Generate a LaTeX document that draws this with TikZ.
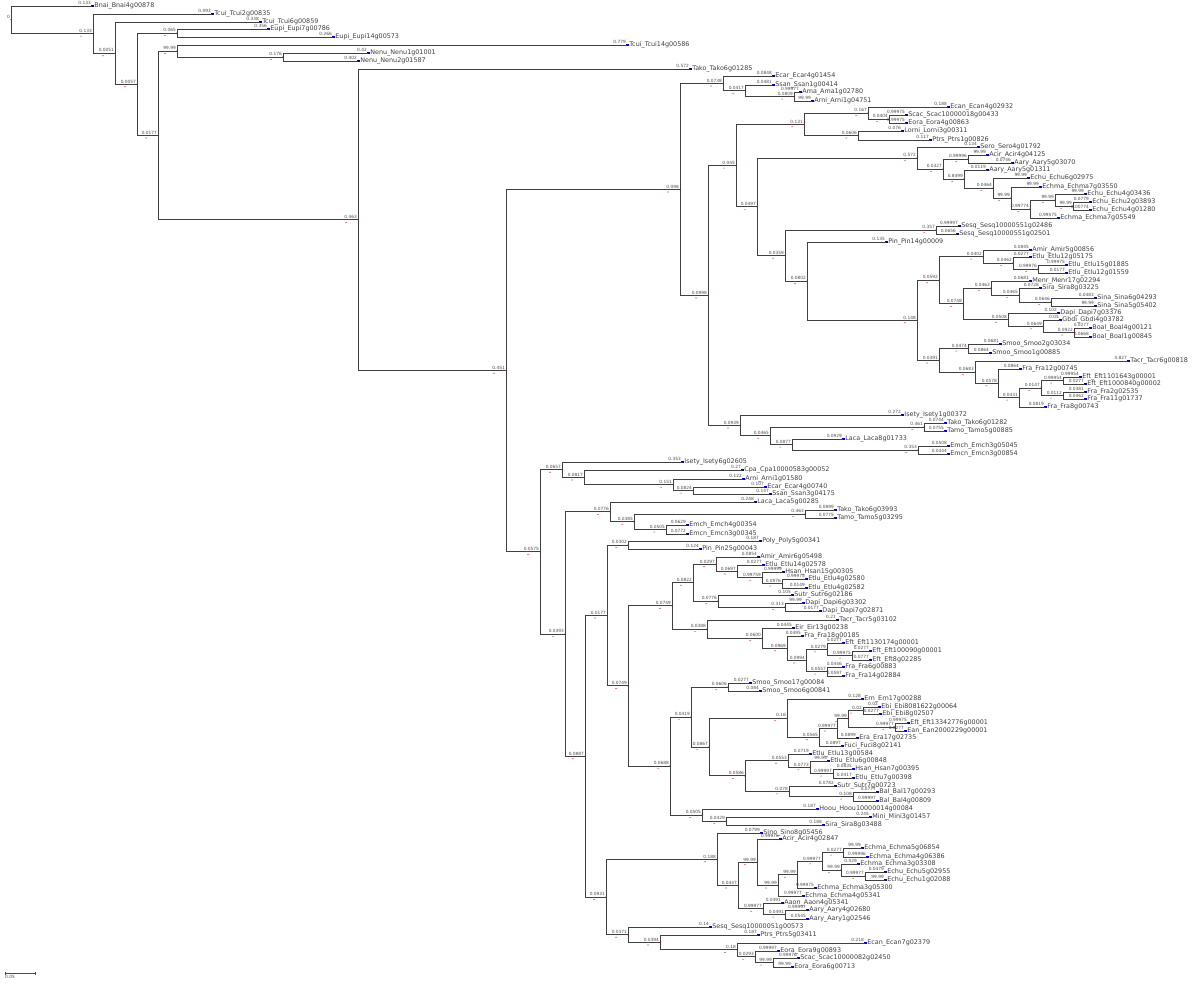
\documentclass[tikz,border=0pt]{standalone}
\usepackage{fontspec}
\setmainfont{DejaVu Sans}
\usetikzlibrary{calc}

\tikzset{
  branch/.style={draw=black!75, line width=0.9pt, line cap=rect},
  blen/.style={font=\fontsize{4.3}{4.3}\selectfont, text=black!70, inner sep=0pt, anchor=south east, xshift=-1pt, yshift=0.9pt},
  taxon/.style={font=\fontsize{6.4}{6.4}\selectfont, text=black!75, inner sep=0pt, anchor=west, xshift=2.2pt},
  tipmark/.style={fill=blue!75!black},
  nodemark/.style={fill=red!80!black},
}

% leaf: name, x of tip, y, branch length, taxon
\newcommand{\leaf}[5]{%
  \coordinate (#1) at (#2,#3);
  \node[blen] (#1-bl) at (#1) {#4};
  \fill[tipmark] ($(#1)+(-1,-0.6)$) rectangle ($(#1)+(1.6,0.6)$);
  \node[taxon] (#1-tx) at (#1) {#5};
}
% clade: name, x, first child, last child, branch length
\newcommand{\clade}[5]{%
  \path let \p1=(#3), \p2=(#4) in coordinate (#1) at (#2pt,{0.5*(\y1+\y2)});
  \draw[branch] (#1) |- (#3);
  \draw[branch] (#1) |- (#4);
  \node[blen] (#1-bl) at (#1) {#5};
  \fill[nodemark] ($(#1)+(-12,2.6)$) circle (0.6);
  \fill[nodemark] (#1) circle (0.6);
}

\begin{document}
\begin{tikzpicture}[x=1pt, y=-1pt]
\fill[white] (0,0) rectangle (1200,984);
\useasboundingbox (0,0) rectangle (1200,984);

% tips, top to bottom
\leaf{l1}{92}{6}{0.133}{Bnai\_Bnai4g00878}
\leaf{l2}{212}{14}{0.093}{Tcui\_Tcui2g00835}
\leaf{l3}{260}{22}{0.338}{Tcui\_Tcui6g00859}
\leaf{l4}{268}{29}{0.356}{Eupi\_Eupi7g00786}
\leaf{l5}{333}{37}{0.266}{Eupi\_Eupi14g00573}
\leaf{l6}{627}{45}{0.779}{Tcui\_Tcui14g00586}
\leaf{l7}{368}{53}{0.42}{Nenu\_Nenu1g01001}
\leaf{l8}{358}{61}{0.402}{Nenu\_Nenu2g01587}
\leaf{l9}{690}{69}{0.572}{Tako\_Tako6g01285}
\leaf{l10}{773}{76}{0.0848}{Ecar\_Ecar4g01454}
\leaf{l11}{773}{85}{0.0481}{Ssan\_Ssan1g00414}
\leaf{l12}{800}{92}{0.99977}{Ama\_Ama1g02780}
\leaf{l13}{812}{101}{99.99}{Arni\_Arni1g04751}
\leaf{l14}{948}{107}{0.188}{Ecan\_Ecan4g02932}
\leaf{l15}{906}{115}{0.99975}{Scac\_Scac10000018g00433}
\leaf{l16}{906}{123}{0.99975}{Eora\_Eora4g00863}
\leaf{l17}{902}{131}{0.076}{Lorni\_Lorni3g00311}
\leaf{l18}{930}{140}{0.117}{Ptrs\_Ptrs1g00826}
\leaf{l19}{978}{147}{0.134}{Sero\_Sero4g01792}
\leaf{l20}{987}{155}{99.99}{Acir\_Acir4g04125}
\leaf{l21}{1012}{163}{0.0746}{Aary\_Aary5g03070}
\leaf{l22}{987}{170}{0.0119}{Aary\_Aary5g01311}
\leaf{l23}{1028}{178}{99.99}{Echu\_Echu6g02975}
\leaf{l24}{1040}{187}{99.99}{Echma\_Echma7g03550}
\leaf{l25}{1085}{194}{99.99}{Echu\_Echu4g03436}
\leaf{l26}{1090}{202}{0.0779}{Echu\_Echu2g03893}
\leaf{l27}{1090}{210}{0.00774}{Echu\_Echu4g01280}
\leaf{l28}{1058}{218}{0.99575}{Echma\_Echma7g05549}
\leaf{l29}{959}{226}{0.99997}{Sesq\_Sesq10000551g02486}
\leaf{l30}{957}{234}{0.0656}{Sesq\_Sesq10000551g02501}
\leaf{l31}{886}{242}{0.135}{Pin\_Pin14g00009}
\leaf{l32}{1030}{250}{0.0845}{Amir\_Amir5g00856}
\leaf{l33}{1030}{257}{0.0277}{Etlu\_Etlu12g05175}
\leaf{l34}{1066}{265}{0.99975}{Etlu\_Etlu15g01885}
\leaf{l35}{1066}{273}{0.0177}{Etlu\_Etlu12g01559}
\leaf{l36}{1030}{281}{0.0681}{Menr\_Menr17g02294}
\leaf{l37}{1040}{288}{0.0728}{Sira\_Sira8g03225}
\leaf{l38}{1095}{298}{0.0483}{Sina\_Sina6g04293}
\leaf{l39}{1095}{306}{99.99}{Sina\_Sina5g05402}
\leaf{l40}{1058}{313}{0.102}{Dapi\_Dapi7g03376}
\leaf{l41}{1060}{320}{0.05}{Gbdi\_Gbdi4g03782}
\leaf{l42}{1090}{328}{0.0277}{Boal\_Boal4g00121}
\leaf{l43}{1090}{337}{0.0668}{Boal\_Boal1g00845}
\leaf{l44}{1000}{344}{0.0681}{Smoo\_Smoo2g03034}
\leaf{l45}{990}{353}{0.0864}{Smoo\_Smoo1g00885}
\leaf{l46}{1128}{361}{0.827}{Tacr\_Tacr6g00818}
\leaf{l47}{1020}{369}{0.0864}{Fra\_Fra12g00745}
\leaf{l48}{1080}{377}{0.99954}{Eft\_Eft1101643g00001}
\leaf{l49}{1085}{384}{0.0277}{Eft\_Eft1000840g00002}
\leaf{l50}{1085}{392}{0.0381}{Fra\_Fra2g02535}
\leaf{l51}{1085}{399}{0.0462}{Fra\_Fra11g01737}
\leaf{l52}{1045}{407}{0.0819}{Fra\_Fra8g00743}
\leaf{l53}{902}{415}{0.272}{Isety\_Isety1g00372}
\leaf{l54}{945}{423}{0.0744}{Tako\_Tako6g01282}
\leaf{l55}{945}{431}{0.0755}{Tamo\_Tamo5g00885}
\leaf{l56}{843}{439}{0.0929}{Laca\_Laca8g01733}
\leaf{l57}{948}{446}{0.0508}{Emch\_Emch3g05045}
\leaf{l58}{948}{454}{0.0444}{Emcn\_Emcn3g00854}
\leaf{l59}{682}{462}{0.353}{Isety\_Isety6g02605}
\leaf{l60}{742}{470}{0.27}{Cpa\_Cpa10000583g00052}
\leaf{l61}{743}{479}{0.122}{Arni\_Arni1g01580}
\leaf{l62}{765}{487}{0.107}{Ecar\_Ecar4g00740}
\leaf{l63}{770}{494}{0.147}{Ssan\_Ssan3g04175}
\leaf{l64}{755}{502}{0.248}{Laca\_Laca5g00285}
\leaf{l65}{835}{510}{0.0899}{Tako\_Tako6g03993}
\leaf{l66}{835}{518}{0.0775}{Tamo\_Tamo5g03295}
\leaf{l67}{687}{525}{0.0629}{Emch\_Emch4g00354}
\leaf{l68}{687}{534}{0.0772}{Emcn\_Emcn3g00345}
\leaf{l69}{760}{541}{0.187}{Poly\_Poly5g00341}
\leaf{l70}{700}{549}{0.124}{Pin\_Pin25g00043}
\leaf{l71}{758}{557}{0.0854}{Amir\_Amir6g05498}
\leaf{l72}{763}{565}{0.0277}{Etlu\_Etlu14g02578}
\leaf{l73}{783}{572}{0.99999}{Hsan\_Hsan15g00305}
\leaf{l74}{806}{579}{0.99975}{Etlu\_Etlu4g02580}
\leaf{l75}{806}{588}{0.0149}{Etlu\_Etlu4g02582}
\leaf{l76}{792}{595}{0.105}{Sutr\_Sutr6g02186}
\leaf{l77}{803}{603}{99.99}{Dapi\_Dapi6g03302}
\leaf{l78}{820}{611}{0.0177}{Dapi\_Dapi7g02871}
\leaf{l79}{837}{620}{0.21}{Tacr\_Tacr5g03102}
\leaf{l80}{793}{628}{0.0445}{Eir\_Eir13g00238}
\leaf{l81}{802}{636}{0.0495}{Fra\_Fra18g00185}
\leaf{l82}{843}{643}{0.0277}{Eft\_Eft1130174g00001}
\leaf{l83}{870}{651}{0.0277}{Eft\_Eft100090g00001}
\leaf{l84}{870}{660}{0.0777}{Eft\_Eft8g02285}
\leaf{l85}{843}{667}{0.0446}{Fra\_Fra6g00883}
\leaf{l86}{843}{676}{0.0597}{Fra\_Fra14g02884}
\leaf{l87}{750}{683}{0.0277}{Smoo\_Smoo17g00084}
\leaf{l88}{760}{691}{0.084}{Smoo\_Smoo6g00841}
\leaf{l89}{862}{699}{0.128}{Ern\_Ern17g00288}
\leaf{l90}{879}{707}{0.02}{Ebi\_Ebi8081622g00064}
\leaf{l91}{880}{714}{0.0277}{Ebi\_Ebi8g02507}
\leaf{l92}{908}{723}{0.99975}{Eft\_Eft13342776g00001}
\leaf{l93}{905}{731}{0.0277}{Ean\_Ean2000229g00001}
\leaf{l94}{857}{738}{0.0899}{Era\_Era17g02735}
\leaf{l95}{842}{746}{0.0897}{Fuci\_Fuci8g02141}
\leaf{l96}{810}{754}{0.0719}{Etlu\_Etlu13g00584}
\leaf{l97}{828}{761}{99.99}{Etlu\_Etlu6g00848}
\leaf{l98}{853}{769}{0.0835}{Hsan\_Hsan7g00395}
\leaf{l99}{853}{778}{0.0417}{Etlu\_Etlu7g00398}
\leaf{l100}{835}{786}{0.0782}{Sutr\_Sutr7g00723}
\leaf{l101}{877}{792}{0.0777}{Bal\_Bal17g00293}
\leaf{l102}{877}{801}{0.99997}{Bal\_Bal4g00809}
\leaf{l103}{817}{809}{0.187}{Hoou\_Hoou10000014g00084}
\leaf{l104}{870}{817}{0.245}{Mini\_Mini3g01457}
\leaf{l105}{823}{825}{0.188}{Sira\_Sira8g03488}
\leaf{l106}{761}{833}{0.0799}{Sino\_Sino8g05456}
\leaf{l107}{780}{839}{0.99976}{Acir\_Acir4g02847}
\leaf{l108}{862}{848}{99.99}{Echma\_Echma5g06854}
\leaf{l109}{867}{857}{0.99996}{Echma\_Echma4g06386}
\leaf{l110}{858}{864}{0.029}{Echma\_Echma3g03308}
\leaf{l111}{885}{872}{0.0479}{Echu\_Echu5g02955}
\leaf{l112}{885}{880}{99.99}{Echu\_Echu1g02088}
\leaf{l113}{815}{888}{0.99975}{Echma\_Echma3g05300}
\leaf{l114}{803}{896}{0.99977}{Echma\_Echma4g05341}
\leaf{l115}{782}{903}{0.0491}{Aaon\_Aaon4g05341}
\leaf{l116}{807}{910}{0.99997}{Aary\_Aary4g02680}
\leaf{l117}{807}{919}{0.0545}{Aary\_Aary1g02546}
\leaf{l118}{710}{927}{0.14}{Sesq\_Sesq10000051g00573}
\leaf{l119}{758}{935}{0.187}{Ptrs\_Ptrs5g03411}
\leaf{l120}{865}{943}{0.218}{Ecan\_Ecan7g02379}
\leaf{l121}{778}{951}{0.99997}{Eora\_Eora9g00893}
\leaf{l122}{798}{958}{0.99976}{Scac\_Scac10000082g02450}
\leaf{l123}{792}{967}{99.99}{Eora\_Eora6g00713}

% upper clades
\clade{c283}{283}{l7}{l8}{0.176}
\clade{c177b}{177}{l6}{c283}{99.99}
\clade{c177a}{177}{l4}{l5}{0.065}
\clade{c794}{794}{l12}{l13}{0.0809}
\clade{c745}{745}{l11}{c794}{0.0417}
\clade{c723}{723}{l10}{c745}{0.0738}
\clade{c889}{889}{l15}{l16}{0.0404}
\clade{c868}{868}{l14}{c889}{0.167}
\clade{c858}{858}{l17}{l18}{0.0606}
\clade{c804}{804}{c868}{c858}{0.131}
\clade{c968}{968}{l20}{l21}{0.99996}
\clade{c1073}{1073}{l26}{l27}{99.99}
\clade{c1055}{1055}{l25}{c1073}{99.99}
\clade{c1030}{1030}{c1055}{l28}{0.99774}
\clade{c1011}{1011}{l24}{c1030}{99.99}
\clade{c993}{993}{l23}{c1011}{0.0464}
\clade{c964}{964}{l22}{c993}{0.8499}
\clade{c943}{943}{c968}{c964}{0.0327}
\clade{c917a}{917}{l19}{c943}{0.572}
\clade{c936}{936}{l29}{l30}{0.357}
\clade{c1038}{1038}{l34}{l35}{0.99976}
\clade{c1013}{1013}{l33}{c1038}{0.0462}
\clade{c983}{983}{l32}{c1013}{0.0402}
\clade{c1051}{1051}{l38}{l39}{0.0646}
\clade{c1019a}{1019}{l37}{c1051}{0.0465}
\clade{c991}{991}{l36}{c1019a}{0.0463}
\clade{c1074}{1074}{l42}{l43}{0.0922}
\clade{c1043}{1043}{l41}{c1074}{0.0649}
\clade{c1008}{1008}{l40}{c1043}{0.0508}
\clade{c963}{963}{c991}{c1008}{0.0748}
\clade{c939a}{939}{c983}{c963}{0.0592}
\clade{c968b}{968}{l44}{l45}{0.0474}
\clade{c1063a}{1063}{l48}{l49}{0.99954}
\clade{c1063b}{1063}{l50}{l51}{0.0112}
\clade{c1041}{1041}{c1063a}{c1063b}{0.0147}
\clade{c1019b}{1019}{c1041}{l52}{0.0431}
\clade{c998}{998}{l47}{c1019b}{0.0578}
\clade{c975}{975}{l46}{c998}{0.0683}
\clade{c939b}{939}{c968b}{c975}{0.0391}
\clade{c917b}{917}{c939a}{c939b}{0.148}
\clade{c807}{807}{l31}{c917b}{0.0802}
\clade{c785}{785}{c936}{c807}{0.0359}
\clade{c757}{757}{c917a}{c785}{0.0497}
\clade{c736}{736}{c804}{c757}{0.045}
\clade{c924}{924}{l54}{l55}{0.461}
\clade{c918}{918}{l57}{l58}{0.353}
\clade{c792}{792}{l56}{c918}{0.0877}
\clade{c770}{770}{c924}{c792}{0.0465}
\clade{c740}{740}{l53}{c770}{0.0939}
\clade{c708}{708}{c736}{c740}{0.0998}
\clade{c680}{680}{c723}{c708}{0.098}

% lower clades
\clade{c693a}{693}{l62}{l63}{0.0824}
\clade{c673}{673}{l61}{c693a}{0.151}
\clade{c584}{584}{l60}{c673}{0.0817}
\clade{c562}{562}{l59}{c584}{0.0657}
\clade{c805}{805}{l65}{l66}{0.463}
\clade{c666}{666}{l67}{l68}{0.0505}
\clade{c634}{634}{c805}{c666}{0.0385}
\clade{c610}{610}{l64}{c634}{0.0776}
\clade{c628a}{628}{l69}{l70}{0.0302}
\clade{c782}{782}{l74}{l75}{0.0976}
\clade{c762}{762}{l73}{c782}{0.99759}
\clade{c737}{737}{l72}{c762}{0.0697}
\clade{c716}{716}{l71}{c737}{0.0297}
\clade{c785b}{785}{l77}{l78}{0.313}
\clade{c718}{718}{l76}{c785b}{0.0776}
\clade{c693b}{693}{c716}{c718}{0.0822}
\clade{c852}{852}{l83}{l84}{0.99975}
\clade{c827a}{827}{l82}{c852}{0.0279}
\clade{c827b}{827}{l85}{l86}{0.0557}
\clade{c806}{806}{c827a}{c827b}{0.0994}
\clade{c787b}{787}{l81}{c806}{0.0969}
\clade{c762b}{762}{l80}{c787b}{0.0600}
\clade{c707}{707}{l79}{c762b}{0.0388}
\clade{c672}{672}{c693b}{c707}{0.0749}
\clade{c728}{728}{l87}{l88}{0.0606}
\clade{c863}{863}{l90}{l91}{0.02}
\clade{c895}{895}{l92}{l93}{0.99977}
\clade{c848}{848}{c863}{c895}{99.99}
\clade{c837}{837}{c848}{l94}{0.99977}
\clade{c819}{819}{c837}{l95}{0.0565}
\clade{c787c}{787}{l89}{c819}{0.16}
\clade{c833}{833}{l98}{l99}{0.99997}
\clade{c810}{810}{l97}{c833}{0.0773}
\clade{c788}{788}{l96}{c810}{0.0553}
\clade{c853}{853}{l101}{l102}{0.108}
\clade{c789}{789}{l100}{c853}{0.078}
\clade{c745b}{745}{c788}{c789}{0.0586}
\clade{c709}{709}{c787c}{c745b}{0.0867}
\clade{c691}{691}{c728}{c709}{0.0419}
\clade{c726}{726}{l104}{l105}{0.0429}
\clade{c702}{702}{l103}{c726}{0.0505}
\clade{c670}{670}{c691}{c702}{0.0688}
\clade{c628b}{628}{c672}{c670}{0.0749}
\clade{c607}{607}{c628a}{c628b}{0.0177}
\clade{c843}{843}{l108}{l109}{0.0277}
\clade{c865}{865}{l111}{l112}{0.99977}
\clade{c841}{841}{l110}{c865}{99.99}
\clade{c822}{822}{c843}{c841}{0.99977}
\clade{c797}{797}{c822}{l113}{99.99}
\clade{c778}{778}{c797}{l114}{99.99}
\clade{c757b}{757}{l107}{c778}{99.99}
\clade{c785c}{785}{l116}{l117}{0.0491}
\clade{c763}{763}{l115}{c785c}{0.99977}
\clade{c738}{738}{c757b}{c763}{0.0447}
\clade{c717}{717}{l106}{c738}{0.188}
\clade{c773}{773}{l122}{l123}{99.99}
\clade{c755}{755}{l121}{c773}{0.0293}
\clade{c737b}{737}{l120}{c755}{0.18}
\clade{c660}{660}{l119}{c737b}{0.0394}
\clade{c628c}{628}{l118}{c660}{0.0371}
\clade{c606}{606}{c717}{c628c}{0.0931}
\clade{c585}{585}{c607}{c606}{0.0887}
\clade{c565}{565}{c610}{c585}{0.0393}
\clade{c540}{540}{c562}{c565}{0.0575}

% backbone
\clade{c506}{506}{c680}{c540}{0.451}
\clade{c358}{358}{l9}{c506}{0.463}
\clade{c158}{158}{c177b}{c358}{0.0177}
\clade{c137}{137}{c177a}{c158}{0.0057}
\clade{c115}{115}{l3}{c137}{0.0051}
\clade{c93}{93}{l2}{c115}{0.133}
\clade{root}{11}{l1}{c93}{0}

% scale bar
\coordinate (sb0) at (5,973);
\coordinate (sb1) at (35,973);
\draw[black!70, line width=0.6pt] (sb0) -- (sb1);
\draw[black!70, line width=0.5pt] ($(sb0)+(0,-1.5)$) -- ($(sb0)+(0,1.5)$) ($(sb1)+(0,-1.5)$) -- ($(sb1)+(0,1.5)$);
\node[font=\fontsize{4.3}{4.3}\selectfont, text=black!70, inner sep=0pt, anchor=north west] (sblab) at ($(sb0)+(0,2.5)$) {0.05};
\end{tikzpicture}
\end{document}
